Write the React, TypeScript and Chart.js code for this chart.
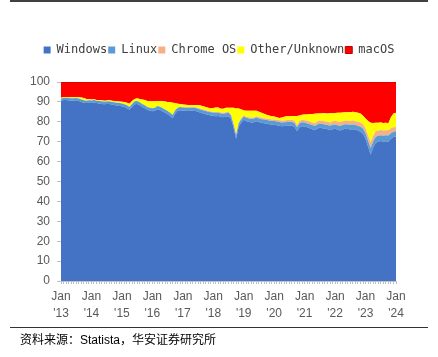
import React, { useEffect, useRef } from 'react';
import { Chart, registerables } from 'chart.js';

Chart.register(...registerables);

// Years covered (Jan 2013 .. Jan 2024, monthly)
const years = ['13', '14', '15', '16', '17', '18', '19', '20', '21', '22', '23', '24'];
const tickMonth = 'Jan';
const seriesNames = ['Windows', 'Linux', 'Chrome OS', 'Other/Unknown', 'macOS'];
const seriesColors = ['#4472C4', '#5B9BD5', '#F4B183', '#FFFF00', '#FF0000'];
const yTicks = [0, 10, 20, 30, 40, 50, 60, 70, 80, 90, 100];
const sourceText = '资料来源：Statista，华安证券研究所';

const categories: string[] = [];
years.forEach((y, i) => {
  for (let m = 1; m <= 12; m++) {
    if (i === years.length - 1 && m > 1) break;
    categories.push(`20${y}-${String(m).padStart(2, '0')}`);
  }
});

const windows = [
  90.6, 90.9, 91.0, 90.8, 90.6, 90.7, 90.8, 90.5, 90.0, 89.6, 89.4, 89.6,
  89.5, 89.6, 89.4, 89.2, 89.0, 88.8, 88.9, 89.0, 88.7, 88.4, 88.2, 88.0,
  87.8, 87.4, 86.8, 86.0, 87.5, 88.8, 89.0, 88.3, 87.5, 86.8, 86.0, 85.6,
  85.3, 85.5, 86.3, 86.0, 85.3, 84.6, 83.8, 82.9, 81.8, 84.2, 85.5, 85.8,
  85.6, 85.5, 85.4, 85.5, 85.6, 85.4, 85.0, 84.6, 84.2, 83.8, 83.5, 83.2,
  83.0, 82.8, 82.9, 82.5, 82.3, 82.6, 82.8, 81.5, 77.0, 71.5, 77.5, 79.5,
  81.0, 80.3, 80.0, 79.6, 79.8, 80.3, 79.9, 79.5, 79.3, 79.1, 78.8, 78.6,
  78.5, 78.3, 78.0, 77.8, 77.9, 78.0, 78.1, 78.0, 77.5, 75.2, 77.3, 77.8,
  77.6, 77.2, 76.7, 76.3, 75.8, 76.6, 77.0, 76.8, 76.6, 76.2, 75.8, 76.3,
  76.5, 76.0, 75.6, 76.1, 76.5, 76.4, 76.1, 76.3, 76.0, 75.6, 75.0, 74.0,
  71.5, 67.5, 63.5, 67.0, 69.5, 70.0, 70.3, 70.0, 70.2, 70.0, 71.5, 72.3,
  72.6,
];

const linux = [
  1.1, 1.0, 1.1, 1.1, 1.2, 1.1, 1.1, 1.2, 1.2, 1.2, 1.2, 1.2,
  1.2, 1.3, 1.2, 1.3, 1.3, 1.3, 1.3, 1.3, 1.3, 1.4, 1.4, 1.4,
  1.4, 1.4, 1.5, 1.5, 1.5, 1.5, 1.5, 1.5, 1.5, 1.5, 1.5, 1.5,
  1.5, 1.6, 1.6, 1.6, 1.6, 1.6, 1.6, 1.6, 1.6, 1.6, 1.6, 1.6,
  1.6, 1.6, 1.6, 1.6, 1.5, 1.6, 1.6, 1.6, 1.6, 1.6, 1.6, 1.6,
  1.7, 1.7, 1.7, 1.7, 1.7, 1.7, 1.7, 1.7, 1.7, 1.7, 1.7, 1.7,
  1.7, 1.7, 1.7, 1.8, 1.8, 1.8, 1.8, 1.8, 1.8, 1.8, 1.8, 1.8,
  1.9, 1.9, 1.9, 1.9, 1.9, 1.9, 1.9, 1.9, 1.9, 2.0, 2.0, 2.0,
  2.0, 2.0, 2.1, 2.1, 2.1, 2.1, 2.1, 2.1, 2.1, 2.2, 2.2, 2.2,
  2.2, 2.3, 2.3, 2.3, 2.3, 2.3, 2.4, 2.4, 2.4, 2.4, 2.5, 2.6,
  2.8, 3.0, 3.2, 3.1, 3.0, 3.0, 3.0, 3.0, 3.0, 3.1, 2.8, 2.7,
  2.6,
];

const chromeOS = [
  0, 0, 0, 0, 0, 0, 0, 0, 0, 0, 0, 0,
  0, 0, 0, 0, 0, 0, 0, 0, 0, 0, 0, 0,
  0, 0, 0, 0, 0, 0, 0, 0, 0, 0, 0, 0,
  0, 0, 0, 0, 0, 0, 0, 0, 0, 0, 0, 0,
  0.3, 0.3, 0.3, 0.3, 0.3, 0.3, 0.3, 0.4, 0.4, 0.4, 0.4, 0.4,
  0.4, 0.4, 0.5, 0.5, 0.5, 0.5, 0.5, 0.5, 0.5, 0.5, 0.5, 0.5,
  0.6, 0.6, 0.6, 0.6, 0.6, 0.7, 0.7, 0.7, 0.7, 0.7, 0.8, 0.8,
  0.8, 0.8, 0.9, 0.9, 0.9, 1.0, 1.0, 1.0, 1.1, 1.1, 1.1, 1.2,
  1.2, 1.3, 1.3, 1.3, 1.4, 1.4, 1.5, 1.5, 1.6, 1.6, 1.7, 1.7,
  1.8, 1.9, 2.0, 1.9, 1.8, 1.8, 1.8, 1.9, 1.9, 2.0, 2.1, 2.2,
  2.4, 2.7, 3.0, 2.8, 2.7, 2.6, 2.6, 2.6, 2.6, 2.6, 2.4, 2.3,
  2.2,
];

const otherUnknown = [
  0.4, 0.4, 0.3, 0.4, 0.5, 0.6, 0.5, 0.6, 1.0, 1.2, 0.9, 0.6,
  0.5, 0.4, 0.4, 0.4, 0.5, 0.5, 0.5, 0.6, 0.6, 0.7, 0.7, 0.8,
  0.9, 1.1, 1.3, 1.6, 1.5, 1.2, 1.3, 1.7, 2.2, 2.6, 3.0, 3.2,
  3.5, 3.2, 2.6, 2.8, 3.4, 4.0, 4.5, 5.3, 6.2, 3.6, 2.0, 1.5,
  1.2, 1.2, 1.2, 1.1, 1.1, 1.2, 1.5, 1.6, 1.6, 1.6, 1.5, 1.6,
  1.8, 2.3, 2.1, 1.9, 2.0, 2.2, 2.0, 3.4, 7.8, 13.0, 7.0, 4.6,
  2.4, 2.9, 3.3, 3.5, 3.3, 2.8, 2.6, 2.5, 2.2, 2.0, 1.8, 1.6,
  1.5, 1.3, 1.1, 1.5, 1.8, 1.9, 1.9, 2.0, 2.4, 4.6, 2.8, 2.5,
  2.9, 3.2, 3.8, 4.2, 4.7, 4.1, 3.6, 3.9, 4.0, 4.2, 4.6, 4.2,
  3.9, 4.3, 4.7, 4.4, 4.2, 4.3, 4.5, 4.4, 4.5, 4.6, 4.6, 4.2,
  5.0, 7.2, 9.8, 6.5, 4.3, 3.9, 3.7, 3.8, 3.7, 3.6, 5.6, 6.9,
  7.1,
];

const macOS = [
  7.9, 7.7, 7.6, 7.7, 7.7, 7.6, 7.6, 7.7, 7.8, 8.0, 8.5, 8.6,
  8.8, 8.7, 9.0, 9.1, 9.2, 9.4, 9.3, 9.1, 9.4, 9.5, 9.7, 9.8,
  9.9, 10.1, 10.4, 10.9, 9.5, 8.5, 8.2, 8.5, 8.8, 9.1, 9.5, 9.7,
  9.7, 9.7, 9.5, 9.6, 9.7, 9.8, 10.1, 10.2, 10.4, 10.6, 10.9, 11.1,
  11.3, 11.4, 11.5, 11.5, 11.5, 11.5, 11.6, 11.8, 12.2, 12.6, 13.0, 13.2,
  13.1, 12.8, 12.8, 13.4, 13.5, 13.0, 13.0, 12.9, 13.0, 13.3, 13.3, 13.7,
  14.3, 14.5, 14.4, 14.5, 14.5, 14.4, 15.0, 15.5, 16.0, 16.4, 16.8, 17.2,
  17.3, 17.7, 18.1, 17.9, 17.5, 17.2, 17.1, 17.1, 17.1, 17.1, 16.8, 16.5,
  16.3, 16.3, 16.1, 16.1, 16.0, 15.8, 15.8, 15.7, 15.7, 15.8, 15.7, 15.6,
  15.6, 15.5, 15.4, 15.3, 15.2, 15.2, 15.2, 15.0, 15.2, 15.4, 15.8, 17.0,
  18.3, 19.6, 20.5, 20.6, 20.5, 20.5, 20.4, 20.6, 20.5, 20.7, 17.7, 15.8,
  15.5,
];

const seriesData = [windows, linux, chromeOS, otherUnknown, macOS];

const legendSpacing = {
  id: 'legendSpacing',
  beforeUpdate(chart: any) {
    const legend = chart.legend;
    if (!legend || legend._spacingPatched) return;
    const orig = legend.fit;
    legend.fit = function () {
      orig.call(this);
      this.height += 16;
    };
    legend._spacingPatched = true;
  },
};

export default function App() {
  const canvasRef = useRef<HTMLCanvasElement | null>(null);

  useEffect(() => {
    if (!canvasRef.current) return;
    const chart = new Chart(canvasRef.current, {
      type: 'line',
      data: {
        labels: categories,
        datasets: seriesNames.map((name, i) => ({
          label: name,
          data: seriesData[i],
          backgroundColor: seriesColors[i],
          borderColor: i === 4 ? '#C00000' : seriesColors[i],
          borderWidth: i === 4 ? 1 : 0,
          pointRadius: 0,
          pointHoverRadius: 0,
          tension: 0,
          fill: i === 0 ? 'origin' : '-1',
        })),
      },
      options: {
        responsive: false,
        animation: false,
        events: [],
        layout: { padding: { top: 43, left: 0, right: 0, bottom: 0 } },
        plugins: {
          legend: {
            display: true,
            position: 'top',
            labels: {
              boxWidth: 7,
              boxHeight: 7,
              padding: 1,
              color: '#404040',
              font: { family: "'DejaVu Sans Mono', monospace", size: 12 },
            },
          },
          tooltip: { enabled: false },
        },
        scales: {
          x: {
            type: 'category',
            offset: false,
            grid: {
              display: true,
              drawOnChartArea: false,
              drawTicks: true,
              tickLength: 3,
              color: '#bfbfbf',
            },
            border: { display: true, color: '#bfbfbf' },
            ticks: {
              autoSkip: false,
              maxRotation: 0,
              minRotation: 0,
              padding: 5,
              color: '#595959',
              font: { family: "'Liberation Sans', Arial, sans-serif", size: 12, lineHeight: 1.35 },
              callback: (_v: any, idx: number) =>
                idx % 12 === 0 ? [tickMonth, "'" + years[idx / 12]] : '',
            },
            afterFit: (s: any) => {
              s.height = 76;
            },
          },
          y: {
            stacked: true,
            min: 0,
            max: 100,
            afterBuildTicks: (s: any) => {
              s.ticks = yTicks.map((v) => ({ value: v }));
            },
            grid: {
              display: true,
              drawOnChartArea: false,
              drawTicks: true,
              tickLength: 4,
              color: '#bfbfbf',
            },
            border: { display: false },
            ticks: {
              padding: 7,
              color: '#595959',
              font: { family: "'Liberation Sans', Arial, sans-serif", size: 12 },
            },
            afterFit: (s: any) => {
              s.width = 61;
            },
          },
          yR: {
            position: 'right',
            display: true,
            grid: { display: false },
            border: { display: false },
            ticks: { display: false },
            afterFit: (s: any) => {
              s.width = 42;
            },
          },
        },
      },
      plugins: [legendSpacing],
    } as any);
    return () => chart.destroy();
  }, []);

  return (
    <div
      style={{
        position: 'fixed',
        left: 0,
        top: 0,
        width: 438,
        height: 357,
        background: '#ffffff',
        overflow: 'hidden',
      }}
    >
      <div
        style={{
          position: 'absolute',
          left: 10,
          top: 0,
          width: 418,
          height: 2,
          background: '#404040',
        }}
      />
      <canvas
        ref={canvasRef}
        width={438}
        height={357}
        style={{ position: 'absolute', left: 0, top: 0, width: 438, height: 357 }}
      />
      <div
        style={{
          position: 'absolute',
          left: 10,
          top: 327,
          width: 418,
          height: 1,
          background: '#333333',
        }}
      />
      <div
        style={{
          position: 'absolute',
          left: 20,
          top: 332,
          fontFamily: "'Liberation Sans', 'Noto Sans CJK SC', sans-serif",
          fontSize: 12,
          lineHeight: '16px',
          color: '#000000',
          whiteSpace: 'nowrap',
        }}
      >
        {sourceText}
      </div>
    </div>
  );
}
